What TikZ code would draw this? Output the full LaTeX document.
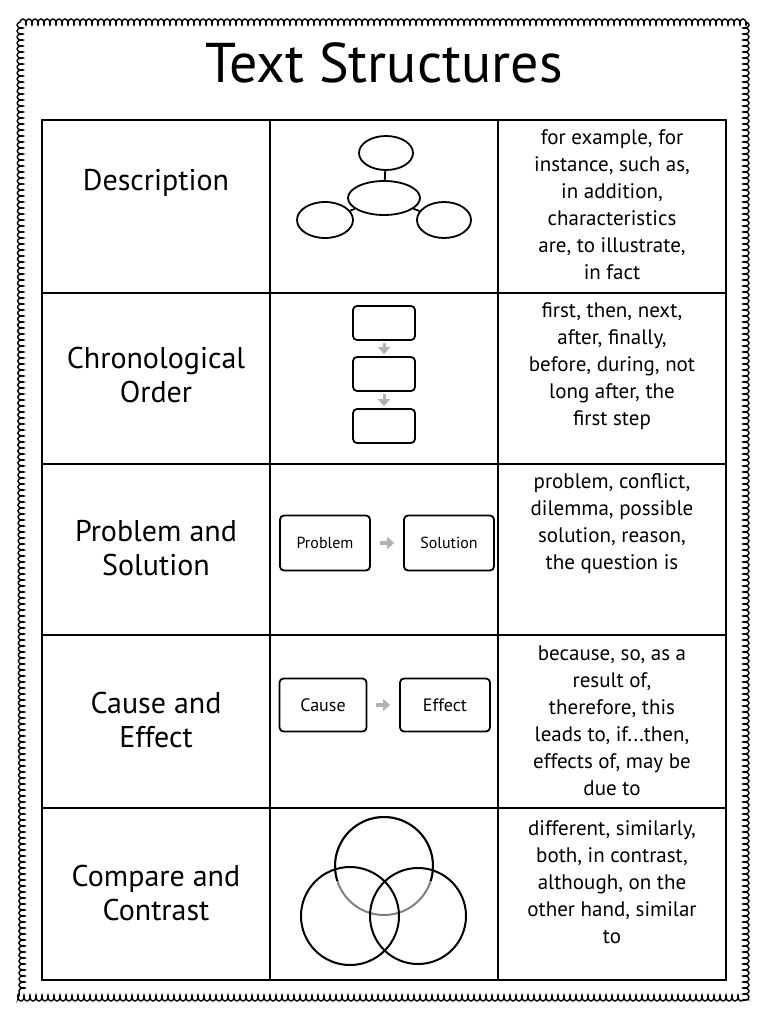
\documentclass[tikz,border=0pt]{standalone}
\usepackage{fontspec}
\setmainfont{PT Sans}
\usetikzlibrary{decorations.pathmorphing,arrows.meta,shapes.geometric}
\begin{document}
\begin{tikzpicture}[x=1pt,y=-1pt,
  lbl/.style={font=\fontsize{30}{34}\selectfont,align=center},
  words/.style={font=\fontsize{21}{27}\selectfont,align=center},
  rbox/.style={draw,line width=1.8pt,rounded corners=4pt},
  gar/.style={-{Triangle[length=7pt,width=12pt]},line width=4pt,draw=gray!60,shorten <=9pt,shorten >=9pt},
  ell/.style={draw,line width=1.8pt}]
\useasboundingbox (0,0) rectangle (768,1024);
\draw[decorate,decoration={coil,amplitude=3pt,segment length=6pt},line width=1.4pt]
  (20,22) -- (746,22) -- (746,998) -- (22,998) -- cycle;
\node[font=\fontsize{56}{60}\selectfont] (title) at (384,63) {Text Structures};
% table
\draw[line width=1.3pt] (42,120) rectangle (726,980);
\foreach \y in {293,464,635,808} \draw[line width=1.3pt] (42,\y) -- (726,\y);
\foreach \x in {270,498} \draw[line width=1.3pt] (\x,120) -- (\x,980);
% labels
\node[lbl] (l1) at (156,183) {Description};
\node[lbl] (l2) at (156,375) {Chronological\\Order};
\node[lbl] (l3) at (156,548) {Problem and\\Solution};
\node[lbl] (l4) at (156,720) {Cause and\\Effect};
\node[lbl] (l5) at (156,893) {Compare and\\Contrast};
% words
\node[words] (w1) at (612,205) {for example, for\\instance, such as,\\in addition,\\characteristics\\are, to illustrate,\\in fact};
\node[words] (w2) at (612,366) {first, then, next,\\after, finally,\\before, during, not\\long after, the\\first step};
\node[words] (w3) at (612,524) {problem, conflict,\\dilemma, possible\\solution, reason,\\the question is};
\node[words] (w4) at (612,721) {because, so, as a\\result of,\\therefore, this\\leads to, if...then,\\effects of, may be\\due to};
\node[words] (w5) at (612,882) {different, similarly,\\both, in contrast,\\although, on the\\other hand, similar\\to};
% description web
\node[ell,ellipse,minimum width=54pt,minimum height=34pt] (e1) at (386,153) {};
\node[ell,ellipse,minimum width=72pt,minimum height=34pt] (e2) at (384,198) {};
\node[ell,ellipse,minimum width=56pt,minimum height=36pt] (e3) at (325,220) {};
\node[ell,ellipse,minimum width=54pt,minimum height=36pt] (e4) at (444,220) {};
\draw[line width=1.8pt] (e1) -- (e2) (e2) -- (e3) (e2) -- (e4);
% chronological
\node[rbox,minimum width=62pt,minimum height=34pt] (c1) at (384,323) {};
\node[rbox,minimum width=62pt,minimum height=34pt] (c2) at (384,374) {};
\node[rbox,minimum width=62pt,minimum height=34pt] (c3) at (384,426) {};
\draw[gar,line width=3pt,shorten <=2pt,shorten >=2pt] (c1) -- (c2);
\draw[gar,line width=3pt,shorten <=2pt,shorten >=2pt] (c2) -- (c3);
% problem solution
\node[rbox,minimum width=90pt,minimum height=55pt,font=\fontsize{16}{18}\selectfont] (p) at (325,543) {Problem};
\node[rbox,minimum width=90pt,minimum height=55pt,font=\fontsize{16}{18}\selectfont] (s) at (449,543) {Solution};
\draw[gar] (p) -- (s);
% cause effect
\node[rbox,minimum width=87pt,minimum height=53pt,font=\fontsize{18}{20}\selectfont] (c) at (323,705) {Cause};
\node[rbox,minimum width=90pt,minimum height=53pt,font=\fontsize{18}{20}\selectfont] (e) at (445,705) {Effect};
\draw[gar] (c) -- (e);
% venn
\node[circle,draw=gray,line width=2pt,minimum size=98pt] (v1) at (384,866) {};
\node[circle,draw,line width=2pt,minimum size=98pt] (v2) at (350,916) {};
\node[circle,draw,line width=2pt,minimum size=96pt] (v3) at (418,916) {};
\begin{scope}
\clip (300,780) rectangle (470,880);
\draw[line width=2pt] (384,866) circle (49pt);
\end{scope}
\end{tikzpicture}
\end{document}
